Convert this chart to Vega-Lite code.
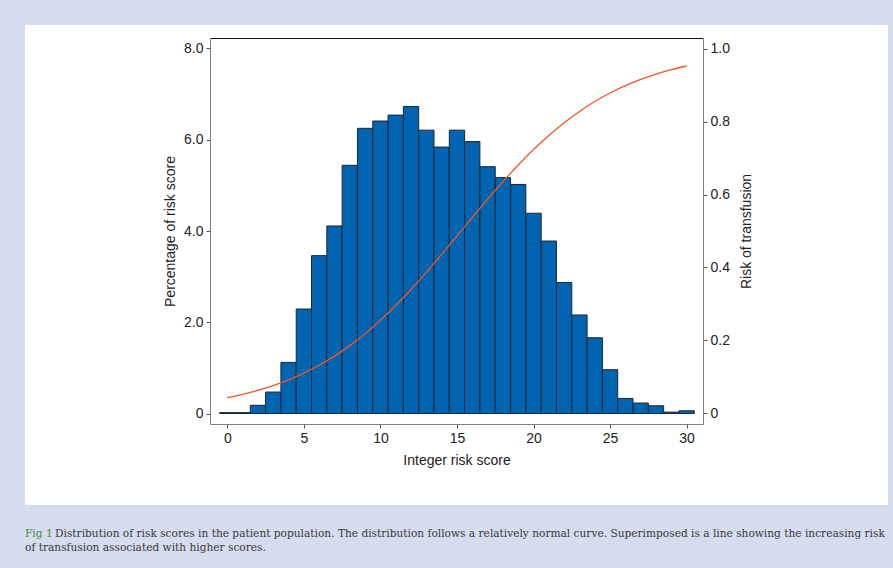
{
  "$schema": "https://vega.github.io/schema/vega-lite/v6.json",
  "autosize": {"type": "pad"},
  "padding": {"left": 25, "top": 25, "right": 5, "bottom": 14},
  "background": "#d5ddee",
  "config": {
    "view": {"fill": "white", "stroke": null},
    "concat": {"spacing": 0},
    "title": {
      "orient": "bottom",
      "anchor": "start",
      "frame": "group",
      "font": "DejaVu Serif",
      "fontSize": 10.6,
      "fontWeight": "normal",
      "color": "#3a3a3a",
      "baseline": "top"
    },
    "axis": {
      "labelFont": "Liberation Sans",
      "titleFont": "Liberation Sans",
      "labelFontSize": 14,
      "titleFontSize": 14,
      "titleFontWeight": "normal",
      "labelColor": "#222222",
      "titleColor": "#222222",
      "domainColor": "#808080",
      "tickColor": "#555555",
      "tickSize": 4,
      "grid": false
    }
  },
  "title": {
    "text": "of transfusion associated with higher scores.",
    "offset": 3.6
  },
  "datasets": {
    "bars": [
      {"score": 0, "pct": 0.02},
      {"score": 1, "pct": 0.02},
      {"score": 2, "pct": 0.18},
      {"score": 3, "pct": 0.47},
      {"score": 4, "pct": 1.12},
      {"score": 5, "pct": 2.29},
      {"score": 6, "pct": 3.46},
      {"score": 7, "pct": 4.11},
      {"score": 8, "pct": 5.44},
      {"score": 9, "pct": 6.25},
      {"score": 10, "pct": 6.41},
      {"score": 11, "pct": 6.54},
      {"score": 12, "pct": 6.73},
      {"score": 13, "pct": 6.21},
      {"score": 14, "pct": 5.84},
      {"score": 15, "pct": 6.21},
      {"score": 16, "pct": 5.96},
      {"score": 17, "pct": 5.41},
      {"score": 18, "pct": 5.17},
      {"score": 19, "pct": 5.02},
      {"score": 20, "pct": 4.39},
      {"score": 21, "pct": 3.78},
      {"score": 22, "pct": 2.87},
      {"score": 23, "pct": 2.16},
      {"score": 24, "pct": 1.66},
      {"score": 25, "pct": 0.96},
      {"score": 26, "pct": 0.33},
      {"score": 27, "pct": 0.23},
      {"score": 28, "pct": 0.17},
      {"score": 29, "pct": 0.03},
      {"score": 30, "pct": 0.06}
    ],
    "curve": [
      {"score": 0, "risk": 0.0431},
      {"score": 1, "risk": 0.0523},
      {"score": 2, "risk": 0.0633},
      {"score": 3, "risk": 0.0765},
      {"score": 4, "risk": 0.0921},
      {"score": 5, "risk": 0.1106},
      {"score": 6, "risk": 0.1322},
      {"score": 7, "risk": 0.1572},
      {"score": 8, "risk": 0.1860},
      {"score": 9, "risk": 0.2187},
      {"score": 10, "risk": 0.2554},
      {"score": 11, "risk": 0.2959},
      {"score": 12, "risk": 0.3398},
      {"score": 13, "risk": 0.3867},
      {"score": 14, "risk": 0.4359},
      {"score": 15, "risk": 0.4863},
      {"score": 16, "risk": 0.5370},
      {"score": 17, "risk": 0.5869},
      {"score": 18, "risk": 0.6350},
      {"score": 19, "risk": 0.6807},
      {"score": 20, "risk": 0.7231},
      {"score": 21, "risk": 0.7619},
      {"score": 22, "risk": 0.7967},
      {"score": 23, "risk": 0.8276},
      {"score": 24, "risk": 0.8547},
      {"score": 25, "risk": 0.8781},
      {"score": 26, "risk": 0.8982},
      {"score": 27, "risk": 0.9153},
      {"score": 28, "risk": 0.9298},
      {"score": 29, "risk": 0.9420},
      {"score": 30, "risk": 0.9521}
    ]
  },
  "vconcat": [
    {
      "title": {
        "text": "Distribution of risk scores in the patient population. The distribution follows a relatively normal curve. Superimposed is a line showing the increasing risk",
        "offset": -10.6,
        "dx": 30
      },
      "vconcat": [
        {
          "width": 863,
          "height": 480,
          "title": {
            "text": "Fig 1",
            "offset": 24,
            "color": "#4f8a3c"
          },
          "layer": [
            {
              "data": {"name": "bars"},
              "mark": {"type": "bar", "width": 15.3, "fill": "#0064b0", "stroke": "#1b2633", "strokeWidth": 1},
              "encoding": {
                "x": {
                  "field": "score", "type": "quantitative",
                  "scale": {"domain": [-1.13, 31.07], "range": [185, 678], "nice": false, "zero": false, "padding": 0},
                  "axis": {"orient": "bottom", "offset": -81, "values": [0, 5, 10, 15, 20, 25, 30], "format": "d", "title": "Integer risk score", "titlePadding": 8, "labelPadding": 3}
                },
                "y": {
                  "field": "pct", "type": "quantitative",
                  "scale": {"domain": [-0.23, 8.23], "range": [399, 13], "nice": false, "zero": false, "padding": 0},
                  "axis": {"orient": "left", "offset": -185, "values": [0, 2, 4, 6, 8], "labelExpr": "datum.value == 0 ? '0' : format(datum.value, '.1f')", "title": "Percentage of risk score", "titlePadding": 6, "labelPadding": 3}
                },
                "y2": {"datum": 0}
              }
            },
            {
              "data": {"name": "curve"},
              "mark": {"type": "line", "color": "#f0562a", "strokeWidth": 1.3, "interpolate": "monotone"},
              "encoding": {
                "x": {
                  "field": "score", "type": "quantitative",
                  "scale": {"domain": [-1.13, 31.07], "range": [185, 678], "nice": false, "zero": false, "padding": 0},
                  "axis": {"orient": "top", "offset": -13, "labels": false, "ticks": false, "title": null, "domainColor": "#111111"}
                },
                "y": {
                  "field": "risk", "type": "quantitative",
                  "scale": {"domain": [-0.0288, 1.0288], "range": [399, 13], "nice": false, "zero": false, "padding": 0},
                  "axis": {"orient": "right", "offset": -185, "values": [0, 0.2, 0.4, 0.6, 0.8, 1.0], "labelExpr": "datum.value == 0 ? '0' : format(datum.value, '.1f')", "title": "Risk of transfusion", "titleAngle": 270, "titleBaseline": "top", "titlePadding": 10, "labelPadding": 3}
                }
              }
            }
          ],
          "resolve": {"scale": {"x": "independent", "y": "independent"}, "axis": {"x": "independent", "y": "independent"}}
        }
      ]
    }
  ]
}
